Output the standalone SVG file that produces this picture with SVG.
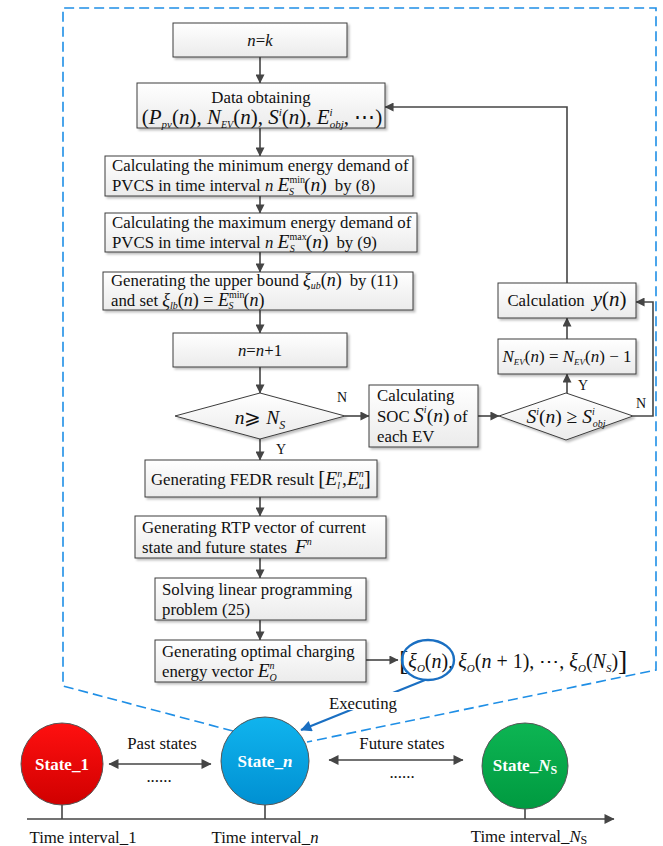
<svg xmlns="http://www.w3.org/2000/svg" width="663" height="846" viewBox="0 0 663 846">
<style>
text{font-family:"Liberation Serif","Times New Roman",serif;fill:#111;font-size:16.8px}
.box{fill:url(#boxg);stroke:#3c3c3c;stroke-width:1;filter:url(#sh)}
.con{fill:none;stroke:#454545;stroke-width:1.6}
.arr{marker-end:url(#ah)}
.i{font-style:italic}
.m{font-size:19.5px}
.m2{font-size:18px}
.s{font-size:11px}
.lbl{font-size:14px}
.st{font-weight:bold;fill:#fff;font-size:17px}
.dash{fill:none;stroke:#1f8fe6;stroke-width:1.6;stroke-dasharray:10 5}
</style>
<defs>
<linearGradient id="boxg" x1="0" y1="0" x2="0" y2="1"><stop offset="0" stop-color="#ffffff"/><stop offset="1" stop-color="#ebebeb"/></linearGradient>
<linearGradient id="gr" x1="0" y1="0" x2="0" y2="1"><stop offset="0" stop-color="#ff1010"/><stop offset="1" stop-color="#d00000"/></linearGradient>
<linearGradient id="gb" x1="0" y1="0" x2="0" y2="1"><stop offset="0" stop-color="#10b4ee"/><stop offset="1" stop-color="#0090d2"/></linearGradient>
<linearGradient id="gg" x1="0" y1="0" x2="0" y2="1"><stop offset="0" stop-color="#0db553"/><stop offset="1" stop-color="#009a40"/></linearGradient>
<filter id="sh" x="-5%" y="-10%" width="115%" height="130%"><feDropShadow dx="2" dy="2" stdDeviation="0.8" flood-color="#000" flood-opacity="0.25"/></filter>
<marker id="ah" viewBox="0 0 10 10" refX="9.5" refY="5" markerWidth="10" markerHeight="9" markerUnits="userSpaceOnUse" orient="auto-start-reverse"><path d="M0,0 L10,5 L0,10 z" fill="#454545"/></marker>
<marker id="ah2" viewBox="0 0 10 10" refX="9.5" refY="5" markerWidth="12" markerHeight="10" markerUnits="userSpaceOnUse" orient="auto-start-reverse"><path d="M0,0 L10,5 L0,10 z" fill="#454545"/></marker>
<marker id="ahb" viewBox="0 0 10 10" refX="9.5" refY="5" markerWidth="14" markerHeight="11" markerUnits="userSpaceOnUse" orient="auto"><path d="M0,0 L10,5 L0,10 z" fill="#1a6fc2"/></marker>
</defs>
<rect width="663" height="846" fill="#fff"/>

<!-- dashed zoom frame -->
<path class="dash" d="M233,731 L63,686 L63,8 L656,8 L656,670 L307,742"/>

<g id="connectors">
<line class="con arr" x1="260" y1="57" x2="260" y2="83"/>
<line class="con arr" x1="260" y1="128" x2="260" y2="156"/>
<line class="con arr" x1="260" y1="196" x2="260" y2="213"/>
<line class="con arr" x1="260" y1="252" x2="260" y2="272"/>
<line class="con arr" x1="260" y1="310" x2="260" y2="333"/>
<line class="con arr" x1="260" y1="367" x2="260" y2="393"/>
<line class="con arr" x1="260" y1="439" x2="260" y2="460"/>
<line class="con arr" x1="260" y1="497" x2="260" y2="516"/>
<line class="con arr" x1="260" y1="558" x2="260" y2="578"/>
<line class="con arr" x1="260" y1="620" x2="260" y2="640"/>
<line class="con arr" x1="345" y1="416" x2="369" y2="416"/>
<line class="con arr" x1="478" y1="416" x2="499" y2="416"/>
<line class="con arr" x1="567" y1="393" x2="567" y2="374"/>
<line class="con arr" x1="567" y1="339" x2="567" y2="318"/>
<polyline class="con arr" points="567,283 567,107 385,107"/>
<polyline class="con arr" points="633,416 653,416 653,302 636,302"/>
<line class="con arr" x1="366" y1="660" x2="398" y2="660"/>
<line class="con" x1="27" y1="819" x2="614" y2="819" marker-end="url(#ah2)"/>
<line class="con" x1="62" y1="805" x2="62" y2="819"/>
<line class="con" x1="265" y1="805" x2="265" y2="819"/>
<line class="con" x1="525" y1="809" x2="525" y2="819"/>
<line class="con" x1="109" y1="764" x2="211" y2="764" marker-start="url(#ah2)" marker-end="url(#ah2)"/>
<line class="con" x1="329" y1="760" x2="463" y2="760" marker-start="url(#ah2)" marker-end="url(#ah2)"/>
<line x1="425" y1="680" x2="301" y2="730" stroke="#1a6fc2" stroke-width="2.2" marker-end="url(#ahb)"/>
<text x="276" y="454" class="lbl">Y</text>
<text x="337" y="402" class="lbl">N</text>
<text x="578" y="390" class="lbl">Y</text>
<text x="636" y="408" class="lbl">N</text>
</g>

<g id="n-k">
<rect class="box" x="173" y="23" width="174" height="34"/>
<text x="260" y="46" text-anchor="middle"><tspan class="i">n</tspan>=<tspan class="i">k</tspan></text>
</g>

<g id="data">
<rect class="box" x="137" y="83" width="248" height="45"/>
<text x="261" y="103" text-anchor="middle">Data obtaining</text>
<text x="262" y="124" text-anchor="middle" style="font-size:21px">(<tspan class="i">P</tspan><tspan class="i" style="font-size:11px" dy="4">pv</tspan><tspan dy="-4">(</tspan><tspan class="i">n</tspan>), <tspan class="i">N</tspan><tspan class="i" style="font-size:10px" dy="4">EV</tspan><tspan dy="-4">(</tspan><tspan class="i">n</tspan>), <tspan class="i">S</tspan><tspan class="i" style="font-size:11px" dy="-8">i</tspan><tspan dy="8">(</tspan><tspan class="i">n</tspan>), <tspan class="i">E</tspan><tspan class="i" style="font-size:11px" dy="-8">i</tspan><tspan class="i" style="font-size:11px" dx="-3" dy="12">obj</tspan><tspan dy="-4">, ⋯)</tspan></text>
</g>

<g id="min">
<rect class="box" x="105" y="156" width="308" height="40"/>
<text x="112" y="171">Calculating the minimum energy demand of</text>
<text x="112" y="191">PVCS in time interval <tspan class="i">n</tspan> <tspan class="i m">E</tspan><tspan style="font-size:10px" dy="-8">min</tspan><tspan class="i" style="font-size:10px" dx="-16" dy="12">S</tspan><tspan class="m" dx="10" dy="-4">(</tspan><tspan class="i m">n</tspan><tspan class="m">)</tspan><tspan dx="8">by (8)</tspan></text>
</g>

<g id="max">
<rect class="box" x="105" y="213" width="312" height="39"/>
<text x="112" y="228">Calculating the maximum energy demand of</text>
<text x="112" y="248">PVCS in time interval <tspan class="i">n</tspan> <tspan class="i m">E</tspan><tspan style="font-size:10px" dy="-8">max</tspan><tspan class="i" style="font-size:10px" dx="-17" dy="12">S</tspan><tspan class="m" dx="11" dy="-4">(</tspan><tspan class="i m">n</tspan><tspan class="m">)</tspan><tspan dx="8">by (9)</tspan></text>
</g>

<g id="bound">
<rect class="box" x="103" y="272" width="310" height="38"/>
<text x="111" y="286">Generating the upper bound <tspan class="i m2">ξ</tspan><tspan class="i" style="font-size:10px" dy="3">ub</tspan><tspan class="m2" dy="-3">(</tspan><tspan class="i m2">n</tspan><tspan class="m2">)</tspan><tspan dx="8">by (11)</tspan></text>
<text x="111" y="306">and set <tspan class="i m2">ξ</tspan><tspan class="i" style="font-size:10px" dy="3">lb</tspan><tspan class="m2" dy="-3">(</tspan><tspan class="i m2">n</tspan><tspan class="m2">) = </tspan><tspan class="i m2">E</tspan><tspan style="font-size:10px" dy="-8">min</tspan><tspan class="i" style="font-size:10px" dx="-16" dy="11">S</tspan><tspan class="m2" dx="10" dy="-3">(</tspan><tspan class="i m2">n</tspan><tspan class="m2">)</tspan></text>
</g>

<g id="n-inc">
<rect class="box" x="173" y="333" width="174" height="34"/>
<text x="260" y="356" text-anchor="middle"><tspan class="i">n</tspan>=<tspan class="i">n</tspan>+1</text>
</g>

<g id="dec1">
<polygon class="box" points="260,393 345,416 260,439 175,416"/>
<text x="260" y="424" text-anchor="middle" class="m"><tspan class="i">n</tspan>⩾ <tspan class="i">N</tspan><tspan class="i" style="font-size:12px" dy="5">S</tspan></text>
</g>

<g id="soc">
<rect class="box" x="369" y="385" width="109" height="62"/>
<text x="377" y="401">Calculating</text>
<text x="377" y="422">SOC <tspan class="i" style="font-size:20px">S</tspan><tspan class="i" style="font-size:10px" dy="-9">i</tspan><tspan class="m" dy="9">(</tspan><tspan class="i m">n</tspan><tspan class="m">)</tspan> of</text>
<text x="377" y="442">each EV</text>
</g>

<g id="dec2">
<polygon class="box" points="566,393 633,416 566,440 499,416"/>
<text x="566" y="423" text-anchor="middle" class="m"><tspan class="i">S</tspan><tspan class="i" style="font-size:10px" dy="-8">i</tspan><tspan dy="8">(</tspan><tspan class="i">n</tspan>) ≥ <tspan class="i">S</tspan><tspan class="i" style="font-size:10px" dy="-8">i</tspan><tspan class="i" style="font-size:10px" dx="-2" dy="12">obj</tspan></text>
</g>

<g id="nev">
<rect class="box" x="498" y="339" width="138" height="35"/>
<text x="567" y="362" text-anchor="middle" style="font-size:17px"><tspan class="i">N</tspan><tspan class="i" style="font-size:9px" dy="3">EV</tspan><tspan dy="-3">(</tspan><tspan class="i">n</tspan>) = <tspan class="i">N</tspan><tspan class="i" style="font-size:9px" dy="3">EV</tspan><tspan dy="-3">(</tspan><tspan class="i">n</tspan>) − 1</text>
</g>

<g id="calc-y">
<rect class="box" x="498" y="283" width="138" height="35"/>
<text x="567" y="306" text-anchor="middle">Calculation<tspan class="i" style="font-size:21px" dx="8">y</tspan><tspan style="font-size:21px">(</tspan><tspan class="i" style="font-size:21px">n</tspan><tspan style="font-size:21px">)</tspan></text>
</g>

<g id="fedr">
<rect class="box" x="145" y="460" width="232" height="37"/>
<text x="151" y="485">Generating FEDR result <tspan style="font-size:21px">[</tspan><tspan class="i m">E</tspan><tspan class="i" style="font-size:10px" dy="-8">n</tspan><tspan class="i" style="font-size:10px" dx="-5" dy="12">l</tspan><tspan class="m" dx="2" dy="-4">,</tspan><tspan class="i m">E</tspan><tspan class="i" style="font-size:10px" dy="-8">n</tspan><tspan class="i" style="font-size:10px" dx="-5" dy="12">u</tspan><tspan style="font-size:21px" dy="-4">]</tspan></text>
</g>

<g id="rtp">
<rect class="box" x="135" y="516" width="251" height="42"/>
<text x="142" y="533">Generating RTP vector of current</text>
<text x="142" y="553">state and future states<tspan class="i m" dx="8">F</tspan><tspan class="i" style="font-size:10px" dy="-8">n</tspan></text>
</g>

<g id="lp">
<rect class="box" x="155" y="578" width="211" height="42"/>
<text x="162" y="595">Solving linear programming</text>
<text x="162" y="615">problem (25)</text>
</g>

<g id="optimal">
<rect class="box" x="155" y="640" width="211" height="42"/>
<text x="162" y="657">Generating optimal charging</text>
<text x="162" y="677">energy vector <tspan class="i m">E</tspan><tspan class="i" style="font-size:10px" dy="-8">n</tspan><tspan class="i" style="font-size:10px" dx="-5" dy="12">O</tspan></text>
</g>

<g id="vector">
<text x="399" y="668" style="font-size:20px"><tspan style="font-size:28px" dy="2">[</tspan><tspan class="i" dy="-2">ξ</tspan><tspan class="i" style="font-size:11px" dy="4">O</tspan><tspan dy="-4">(</tspan><tspan class="i">n</tspan>), <tspan class="i">ξ</tspan><tspan class="i" style="font-size:11px" dy="4">O</tspan><tspan dy="-4">(</tspan><tspan class="i">n</tspan> + 1), ⋯, <tspan class="i">ξ</tspan><tspan class="i" style="font-size:11px" dy="4">O</tspan><tspan dy="-4">(</tspan><tspan class="i">N</tspan><tspan class="i" style="font-size:11px" dy="4">S</tspan><tspan dy="-4">)</tspan><tspan style="font-size:28px" dy="2">]</tspan></text>
<ellipse cx="428" cy="660" rx="26" ry="20" fill="none" stroke="#1a6fc2" stroke-width="2.4"/>
</g>

<g id="executing">
<rect x="326" y="692" width="74" height="18" fill="#fff"/>
<text x="363" y="709" text-anchor="middle">Executing</text>
</g>

<g id="state-1">
<circle cx="62" cy="764" r="41" fill="url(#gr)" stroke="#555" stroke-width="1"/>
<text x="62" y="770" text-anchor="middle" class="st">State_1</text>
</g>
<g id="state-n">
<circle cx="265" cy="761" r="44" fill="url(#gb)" stroke="#555" stroke-width="1"/>
<text x="265" y="767" text-anchor="middle" class="st">State_<tspan class="i">n</tspan></text>
</g>
<g id="state-ns">
<circle cx="525" cy="766" r="43" fill="url(#gg)" stroke="#555" stroke-width="1"/>
<text x="525" y="771" text-anchor="middle" class="st">State_<tspan class="i">N</tspan><tspan style="font-size:12px" dy="3">S</tspan></text>
</g>

<g id="timeline-labels">
<text x="162" y="749" text-anchor="middle">Past states</text>
<text x="159" y="782" text-anchor="middle">......</text>
<text x="402" y="749" text-anchor="middle">Future states</text>
<text x="402" y="778" text-anchor="middle">......</text>
<text x="83" y="843" text-anchor="middle">Time interval_1</text>
<text x="265" y="843" text-anchor="middle">Time interval_<tspan class="i">n</tspan></text>
<text x="529" y="842" text-anchor="middle">Time interval_<tspan class="i">N</tspan><tspan style="font-size:12px" dy="2">S</tspan></text>
</g>
</svg>
